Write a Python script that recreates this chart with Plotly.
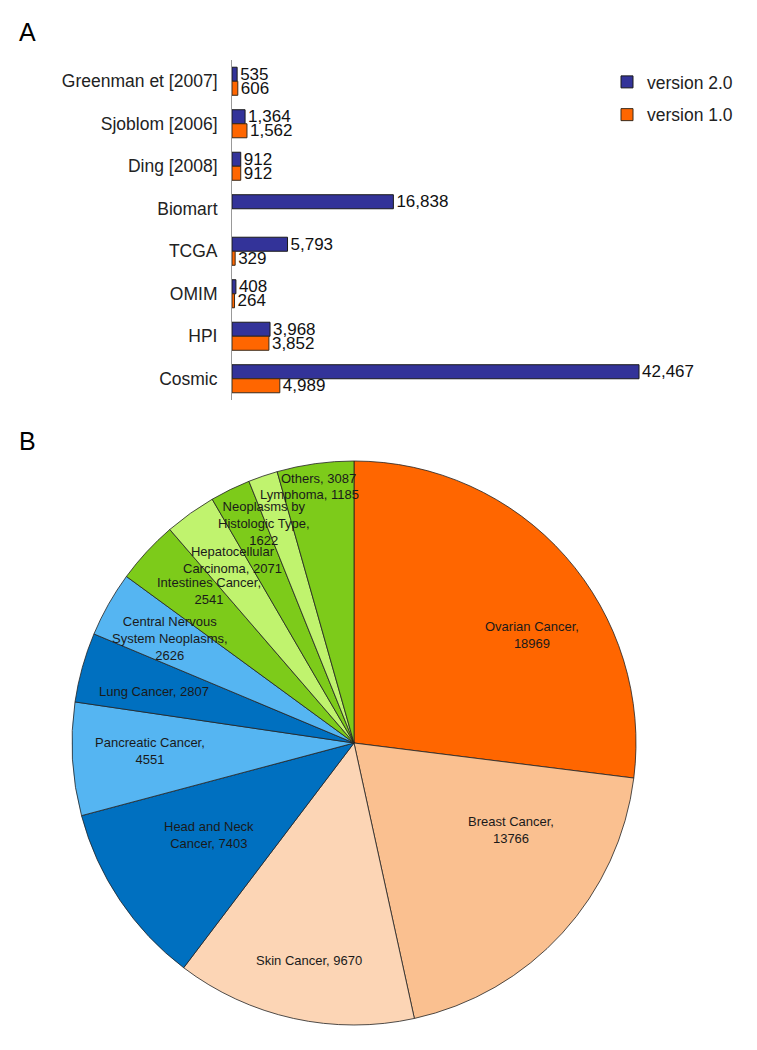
import math
import plotly.graph_objects as go

# ---------------- Data: panel A ----------------
sources = ["Greenman et [2007]", "Sjoblom [2006]", "Ding [2008]", "Biomart",
           "TCGA", "OMIM", "HPI", "Cosmic"]
version2 = [535, 1364, 912, 16838, 5793, 408, 3968, 42467]
version1 = [606, 1562, 912, None, 329, 264, 3852, 4989]

# ---------------- Data: panel B ----------------
cancers = ["Ovarian Cancer", "Breast Cancer", "Skin Cancer", "Head and Neck Cancer",
           "Pancreatic Cancer", "Lung Cancer", "Central Nervous System Neoplasms",
           "Intestines Cancer", "Hepatocellular Carcinoma",
           "Neoplasms by Histologic Type", "Lymphoma", "Others"]
counts = [18969, 13766, 9670, 7403, 4551, 2807, 2626, 2541, 2071, 1622, 1185, 3087]
label_text = ["Ovarian Cancer,<br>18969", "Breast Cancer,<br>13766", "Skin Cancer, 9670",
              "Head and Neck<br>Cancer, 7403", "Pancreatic Cancer,<br>4551",
              "Lung Cancer, 2807", "Central Nervous<br>System Neoplasms,<br>2626",
              "Intestines Cancer,<br>2541", "Hepatocellular<br>Carcinoma, 2071",
              "Neoplasms by<br>Histologic Type,<br>1622", "Lymphoma, 1185", "Others, 3087"]

# ---------------- Styles ----------------
BLUE = "#333399"
ORANGE = "#FF6600"
slice_colors = ["#FF6600", "#FAC090", "#FCD5B5", "#0070C0", "#55B5F2", "#0070C0",
                "#55B5F2", "#7DCB1A", "#C0F36E", "#7DCB1A", "#C0F36E", "#7DCB1A"]
# label placement: (radius fraction, angle offset in degrees from slice middle)
label_place = [(0.738, -10.2), (0.636, 13.5), (0.786, 0.7), (0.609, -1.5), (0.724, -0.9),
               (0.733, 1.0), (0.751, -0.2), (0.745, -3.6), (0.781, -1.9), (0.840, -3.7),
               (0.897, -8.6), (0.948, -0.2)]
FONT = "Liberation Sans, Arial, sans-serif"

W, H = 757, 1050
fig = go.Figure()

fig.add_trace(go.Bar(
    y=sources, x=version2, orientation="h", name="version 2.0",
    marker=dict(color=BLUE, line=dict(color="#1a1a1a", width=1)),
    text=[f"{v:,}" for v in version2], textposition="outside",
    textfont=dict(family=FONT, size=17, color="#111"),
    constraintext="none", cliponaxis=False, legendgroup="v2",
    xaxis="x", yaxis="y", hoverinfo="skip"))
fig.add_trace(go.Bar(
    y=sources, x=version1, orientation="h", name="version 1.0",
    marker=dict(color=ORANGE, line=dict(color="#3a2a1a", width=1)),
    text=[f"{v:,}" if v is not None else "" for v in version1], textposition="outside",
    textfont=dict(family=FONT, size=17, color="#111"),
    constraintext="none", cliponaxis=False, legendgroup="v1",
    xaxis="x", yaxis="y", hoverinfo="skip"))

# Pie
pie_x = [72 / W, 636 / W]
pie_y = [1 - 1025 / H, 1 - 461 / H]
fig.add_trace(go.Pie(
    labels=cancers, values=counts, sort=False, direction="clockwise", rotation=0,
    marker=dict(colors=slice_colors, line=dict(color="#222", width=0.8)),
    textinfo="none", showlegend=False, hoverinfo="skip",
    domain=dict(x=pie_x, y=pie_y)))

# Pie labels derived from slice angles
cx = (pie_x[0] + pie_x[1]) / 2 * W
cy = (1 - (pie_y[0] + pie_y[1]) / 2) * H
R = (pie_x[1] - pie_x[0]) * W / 2
total = sum(counts)
cum = 0
for val, txt, (rf, dth) in zip(counts, label_text, label_place):
    mid = cum + val / 2
    cum += val
    ang = math.radians(90 - mid / total * 360 + dth)
    px = cx + rf * R * math.cos(ang)
    py = cy - rf * R * math.sin(ang)
    fig.add_annotation(x=px / W, y=1 - py / H, xref="paper", yref="paper",
                       xanchor="center", yanchor="middle",
                       text=txt, showarrow=False, align="center",
                       font=dict(family=FONT, size=13, color="#1a1a1a"))

# Panel letters
fig.add_annotation(x=17 / W, y=1 - 32 / H, xref="paper", yref="paper", text="A",
                   showarrow=False, xanchor="left", yanchor="middle",
                   font=dict(family=FONT, size=25, color="#000"))
fig.add_annotation(x=17 / W, y=1 - 441 / H, xref="paper", yref="paper", text="B",
                   showarrow=False, xanchor="left", yanchor="middle",
                   font=dict(family=FONT, size=25, color="#000"))

fig.update_layout(
    width=W, height=H, margin=dict(l=0, r=0, t=0, b=0),
    paper_bgcolor="white", plot_bgcolor="white",
    barmode="group", bargap=0.34, bargroupgap=0,
    xaxis=dict(domain=[232 / W, 700 / W], range=[0, 48830], visible=False, fixedrange=True),
    yaxis=dict(domain=[1 - 400 / H, 1 - 60 / H], categoryorder="array",
               categoryarray=sources, autorange="reversed",
               showline=True, linecolor="#999", linewidth=1, ticks="",
               showgrid=False, zeroline=False, ticklabelstandoff=10,
               tickfont=dict(family=FONT, size=17.5, color="#222")),
    legend=dict(x=607 / W, y=1 - 64 / H, xanchor="left", yanchor="top",
                font=dict(family=FONT, size=17.5, color="#222"),
                traceorder="grouped", tracegroupgap=7, itemwidth=30,
                bgcolor="rgba(0,0,0,0)"),
    font=dict(family=FONT),
)

fig.write_html("out.html", config={"displayModeBar": False},
               post_script="document.body.style.margin='0px';")
